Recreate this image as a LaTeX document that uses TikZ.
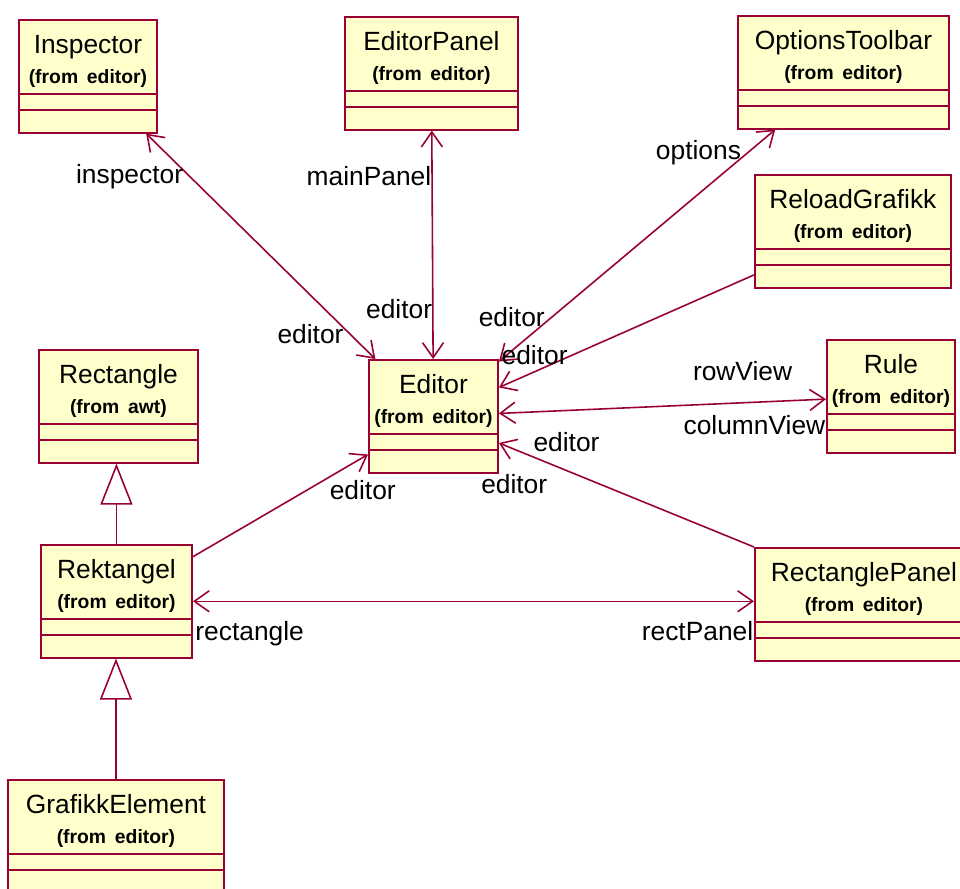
\documentclass[tikz,border=0pt]{standalone}
\usepackage{fontspec}
\setmainfont{Liberation Sans}
\usetikzlibrary{shapes.multipart,arrows.meta}
\definecolor{rose}{RGB}{153,0,51}
\definecolor{classfill}{RGB}{255,255,204}
\newcommand{\fromfont}{\fontsize{11}{13}\selectfont\bfseries}
\newcommand{\clsbox}[2]{\rule{0pt}{0.65cm}#1\\{\fromfont(from #2)}\rule[-0.19cm]{0pt}{0pt}\nodepart{two}\rule{0pt}{0.28cm}\nodepart{three}\rule{0pt}{0.42cm}}

\begin{document}
\begin{tikzpicture}[x=0.02cm,y=-0.02cm,
    font=\fontsize{15}{17}\selectfont,
    >={Straight Barb[length=0.3cm,width=0.42cm]},
    cls/.style={rectangle split, rectangle split parts=3, draw=rose, fill=classfill,
        line width=1.1pt, inner sep=0pt, align=center, anchor=north west},
    assoc/.style={draw=rose, line width=0.9pt},
    inherit/.style={-{Triangle[open,length=0.82cm,width=0.64cm]}}]
        \clip (0,0) rectangle (960,889);
        \fill[white] (0,0) rectangle (960,889);
        \node[cls, text width=2.76cm] (I) at (18,19) {\clsbox{Inspector}{editor}};
        \node[cls, text width=3.46cm] (P) at (344,16) {\clsbox{EditorPanel}{editor}};
        \node[cls, text width=4.22cm] (O) at (737,15) {\clsbox{OptionsToolbar}{editor}};
        \node[cls, text width=3.92cm] (G) at (754,174) {\clsbox{ReloadGrafikk}{editor}};
        \node[cls, text width=3.18cm] (R) at (38,349) {\clsbox{Rectangle}{awt}};
        \node[cls, text width=2.58cm] (E) at (368,359) {\clsbox{Editor}{editor}};
        \node[cls, text width=2.56cm] (U) at (826,339) {\clsbox{Rule}{editor}};
        \node[cls, text width=4.36cm] (N) at (754,547) {\clsbox{RectanglePanel}{editor}};
        \node[cls, text width=3.02cm] (K) at (40,544) {\clsbox{Rektangel}{editor}};
        \node[cls, text width=4.32cm] (F) at (7,779) {\clsbox{GrafikkElement}{editor}};
        \draw[assoc,<->] (I) -- node[pos=0.19,left] {inspector} node[pos=0.89,left] {editor} (E);
        \draw[assoc,<->] (P) -- node[pos=0.2,anchor=east,inner sep=0pt] {mainPanel} node[pos=0.78,anchor=east,inner sep=0pt] {editor} (E);
        \draw[assoc,<->] (O) -- node[pos=0.1,left] {options} node[pos=0.81,left] {editor} (E);
        \draw[assoc,->] (G) -- node[pos=0.86,above] {editor} (E);
        \draw[assoc,<->] (E) -- node[pos=0.745,above=0.3cm] {rowView} node[pos=1,anchor=north east,inner sep=0pt,yshift=-0.3cm] {columnView} (U);
        \draw[assoc,->] (N.north west) -- node[pos=0.735,above=0.25cm] {editor} node[pos=0.94,below=0.38cm] {editor} (E);
        \draw[assoc,->] (K) -- node[pos=0.97,below=0.32cm] {editor} (E);
        \draw[assoc,<->] (K) -- node[pos=0,anchor=north west,inner sep=1pt,yshift=-0.35cm] {rectangle} node[pos=1,anchor=north east,inner sep=0pt,yshift=-0.38cm] {rectPanel} (K -| N.west);
        \draw[assoc,inherit] (K.north) -- (K.north |- R.south);
        \draw[assoc,inherit] (F.north) -- (F.north |- K.south);
    \end{tikzpicture}
\end{document}
